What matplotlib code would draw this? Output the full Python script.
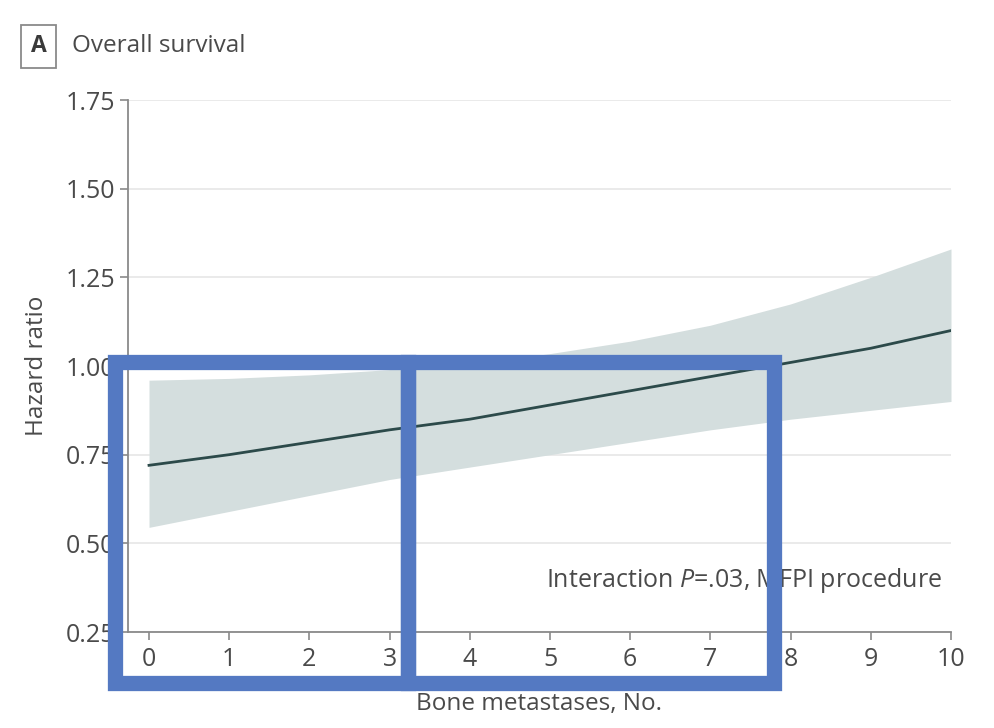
import matplotlib
matplotlib.use("Agg")
import matplotlib.pyplot as plt
from matplotlib.patches import Rectangle

plt.rcParams["font.family"] = ["Open Sans", "DejaVu Sans"]
plt.rcParams["mathtext.fontset"] = "custom"
plt.rcParams["mathtext.it"] = "Open Sans:italic"
plt.rcParams["mathtext.rm"] = "Open Sans"

# bone metastases count vs hazard ratio
n_mets = [0, 1, 2, 3, 4, 5, 6, 7, 8, 9, 10]
hr = [0.72, 0.75, 0.785, 0.82, 0.85, 0.89, 0.93, 0.97, 1.01, 1.05, 1.10]
hr_upper = [0.96, 0.965, 0.975, 0.99, 1.005, 1.035, 1.07, 1.115, 1.175, 1.25, 1.33]
hr_lower = [0.545, 0.59, 0.635, 0.68, 0.715, 0.75, 0.785, 0.82, 0.85, 0.875, 0.90]

y_ticks = [0.25, 0.50, 0.75, 1.00, 1.25, 1.50, 1.75]
x_ticks = list(range(11))

TXT = "#4a4a4a"
AX = "#8a8a8a"
FS = 17.5

fig = plt.figure(figsize=(9.94, 7.28), dpi=100)
ax = fig.add_axes([128 / 994, 96 / 728, 823 / 994, 532 / 728])

ax.fill_between(n_mets, hr_lower, hr_upper, color="#d4dede", lw=0, zorder=1)
ax.plot(n_mets, hr, color="#2c4a4a", lw=2, zorder=2)

ax.set_xlim(-0.262, 10)
ax.set_ylim(0.25, 1.75)
ax.set_xticks(x_ticks)
ax.set_yticks(y_ticks)
ax.set_yticklabels([f"{v:.2f}" for v in y_ticks])
ax.grid(axis="y", color="#e6e6e6", lw=1.2, zorder=0)
ax.set_axisbelow(True)

for s in ["top", "right"]:
    ax.spines[s].set_visible(False)
for s in ["left", "bottom"]:
    ax.spines[s].set_color(AX)
    ax.spines[s].set_linewidth(1.3)
ax.tick_params(colors=AX, labelcolor=TXT, labelsize=18, length=6, width=1.2)
ax.tick_params(axis="x", pad=5)
ax.tick_params(axis="y", pad=3)

ax.set_xlabel("Bone metastases, No.", fontsize=FS, color=TXT, labelpad=14)
ax.set_ylabel("Hazard ratio", fontsize=FS, color=TXT, labelpad=12)

ax.text(0.9885, 0.097, r"Interaction $P$=.03, MFPI procedure", transform=ax.transAxes,
        ha="right", va="center", fontsize=18, color=TXT)

# panel label
fig.text(38.5 / 994, 1 - 46.5 / 728, "A", ha="center", va="center", fontsize=16.5,
         fontweight="bold", color="#3a3a3a",
         bbox=dict(boxstyle="square,pad=0.42", fc="white", ec="#8a8a8a", lw=1.3))
fig.text(72 / 994, 1 - 46 / 728, "Overall survival", ha="left", va="center",
         fontsize=FS, color=TXT)

# blue highlight boxes overlaid on the figure
blue = "#5479c2"
fig.patches.append(Rectangle((114.5 / 994, 1 - 682.5 / 728), (408 - 114.5) / 994,
                             (682.5 - 361.5) / 728, transform=fig.transFigure,
                             fill=False, ec=blue, lw=11, joinstyle="miter", zorder=10))
fig.patches.append(Rectangle((408 / 994, 1 - 682.5 / 728), (773.5 - 408) / 994,
                             (682.5 - 361.5) / 728, transform=fig.transFigure,
                             fill=False, ec=blue, lw=11, joinstyle="miter", zorder=10))

fig.savefig("out.png", dpi=100, facecolor="white")
